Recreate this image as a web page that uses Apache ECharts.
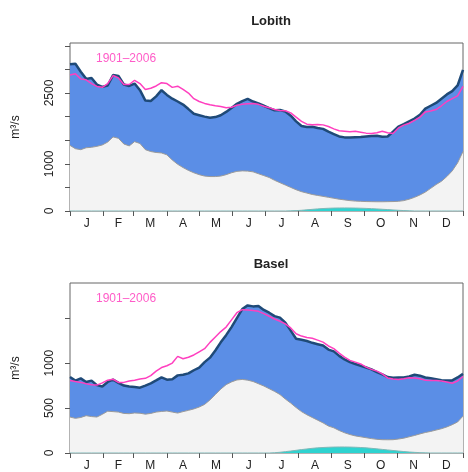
<!DOCTYPE html>
<html>
<head>
<meta charset="utf-8">
<script src="https://cdn.jsdelivr.net/npm/echarts@6/dist/echarts.min.js"></script>
<style>
  html, body { margin: 0; padding: 0; background: #fff; }
  #chart { width: 468px; height: 472px; }
</style>
</head>
<body>
<div id="chart"></div>
<script>
// day of year, 5-day steps
const days = [0,5,10,15,20,25,30,35,40,45,50,55,60,65,70,75,80,85,90,95,100,105,110,115,120,125,130,135,140,145,150,155,160,165,170,175,180,185,190,195,200,205,210,215,220,225,230,235,240,245,250,255,260,265,270,275,280,285,290,295,300,305,310,315,320,325,330,335,340,345,350,355,360,365];

const monthTicks = [0,31,59,90,120,151,181,212,243,273,304,334,365];
const monthMids = [15.5,45,74.5,105,135.5,166,196.5,227.5,258,288.5,319,349.5];
const monthLabels = ['J','F','M','A','M','J','J','A','S','O','N','D'];

// Lobith (m3/s)
const lobithUpper = [3110,3120,2950,2800,2820,2680,2630,2660,2880,2860,2680,2650,2700,2560,2340,2330,2430,2560,2460,2380,2320,2256,2160,2060,2030,2000,1975,1990,2030,2100,2185,2270,2330,2376,2320,2280,2230,2180,2135,2140,2110,2020,1900,1800,1780,1785,1760,1740,1680,1630,1580,1560,1555,1565,1570,1580,1590,1596,1575,1580,1680,1790,1840,1900,1960,2040,2170,2230,2290,2380,2470,2540,2660,2990];
const lobithRef = [2880,2910,2800,2780,2700,2640,2620,2700,2870,2820,2680,2680,2770,2700,2575,2600,2650,2720,2700,2620,2645,2575,2500,2380,2320,2280,2250,2230,2215,2190,2200,2240,2260,2275,2280,2260,2220,2190,2150,2130,2125,2080,1990,1900,1840,1830,1835,1825,1790,1740,1700,1690,1680,1690,1670,1650,1640,1660,1690,1660,1640,1760,1820,1860,1920,1990,2100,2120,2150,2230,2320,2380,2440,2640];
const lobithLower = [1390,1320,1300,1340,1350,1370,1400,1460,1570,1540,1420,1380,1470,1430,1300,1260,1240,1230,1190,1080,990,920,860,810,770,740,730,730,740,770,810,840,850,845,830,790,750,710,650,600,550,500,450,410,380,350,330,310,290,270,250,235,220,210,205,200,198,196,196,198,200,205,220,250,290,340,400,480,560,630,730,850,1020,1260];
const lobithLow = [0,0,0,0,0,0,0,0,0,0,0,0,0,0,0,0,0,0,0,0,0,0,0,0,0,0,0,0,0,0,0,0,0,0,0,0,0,0,0,0,0,3,8,15,25,35,45,52,58,62,64,65,64,62,59,55,50,44,37,30,22,15,9,4,0,0,0,0,0,0,0,0,0,0];

// Basel (m3/s)
const baselUpper = [845,805,830,790,805,755,740,790,815,780,750,740,733,726,750,775,807,840,815,820,863,870,885,920,950,1010,1060,1140,1230,1310,1400,1500,1600,1641,1630,1635,1590,1560,1522,1505,1450,1360,1270,1260,1245,1225,1210,1195,1150,1130,1080,1040,1011,990,970,950,930,900,875,845,837,840,840,850,870,860,840,830,820,810,805,807,840,880];
const baselRef = [807,795,785,770,760,755,780,810,820,785,785,800,810,822,830,860,910,950,970,1000,1074,1048,1065,1090,1125,1160,1230,1290,1350,1400,1480,1560,1593,1590,1585,1575,1550,1520,1490,1465,1435,1390,1326,1300,1285,1275,1255,1233,1190,1160,1110,1065,1030,1010,990,955,930,910,880,835,822,818,825,837,835,825,808,805,805,800,789,775,800,850];
const baselLower = [400,385,395,415,405,400,430,465,460,455,440,437,445,442,432,440,455,462,467,455,444,460,474,490,511,540,590,650,710,760,790,812,818,810,795,770,745,715,685,650,600,555,505,460,425,395,365,335,300,280,250,225,205,190,180,170,160,152,148,147,148,155,165,180,195,212,228,240,255,270,290,315,345,410];
const baselLow = [0,0,0,0,0,0,0,0,0,0,0,0,0,0,0,0,0,0,0,0,0,0,0,0,0,0,0,0,0,0,0,0,0,0,0,0,0,0,3,8,15,22,30,38,45,52,57,61,64,66,67,67,66,64,61,57,52,46,40,34,28,22,16,11,7,4,2,0,0,0,0,0,0,0];

const FONT = 'Liberation Sans';

const pairs = arr => days.map((d, i) => [d, arr[i]]);

function xAxisFor(gridIndex) {
  return {
    type: 'value', gridIndex: gridIndex, min: 0, max: 365,
    axisLine: { show: false },
    splitLine: { show: false },
    axisTick: { show: true, customValues: monthTicks, length: 5, lineStyle: { color: '#555' } },
    axisLabel: {
      customValues: monthMids, margin: 7, fontSize: 12, fontFamily: FONT, color: '#222',
      formatter: v => monthLabels[monthMids.indexOf(v)]
    }
  };
}

function yAxisFor(gridIndex, max, ticks, labels) {
  return {
    type: 'value', gridIndex: gridIndex, min: 0, max: max,
    name: 'm³/s', nameLocation: 'middle', nameGap: 48,
    nameTextStyle: { fontSize: 12, fontFamily: FONT, color: '#222' },
    axisLine: { show: false },
    splitLine: { show: false },
    axisTick: { show: true, customValues: ticks, length: 5, lineStyle: { color: '#555' } },
    axisLabel: {
      customValues: labels, rotate: 90, margin: 14, fontSize: 12, fontFamily: FONT, color: '#222',
      formatter: v => String(v)
    }
  };
}

function panelSeries(idx, upper, ref, lower, low) {
  return [
    {
      type: 'line', xAxisIndex: idx, yAxisIndex: idx, data: pairs(upper), symbol: 'none',
      lineStyle: { width: 0 }, areaStyle: { color: '#5b8ee6', opacity: 1 }, z: 1
    },
    {
      type: 'line', xAxisIndex: idx, yAxisIndex: idx, data: pairs(lower), symbol: 'none',
      lineStyle: { width: 1, color: '#9a9a9a' }, areaStyle: { color: '#f3f3f3', opacity: 1 }, z: 2
    },
    {
      type: 'line', xAxisIndex: idx, yAxisIndex: idx, data: pairs(low), symbol: 'none',
      lineStyle: { width: 1, color: '#7fb8b8' }, areaStyle: { color: '#2ed3d0', opacity: 1 }, z: 3
    },
    {
      type: 'line', xAxisIndex: idx, yAxisIndex: idx, data: pairs(upper), symbol: 'none',
      lineStyle: { width: 2.5, color: '#1f4a78' }, z: 4
    },
    {
      type: 'line', xAxisIndex: idx, yAxisIndex: idx, data: pairs(ref), symbol: 'none',
      lineStyle: { width: 1.5, color: '#ff3fbf' }, z: 5
    }
  ];
}

const chart = echarts.init(document.getElementById('chart'), null, { renderer: 'canvas' });
chart.setOption({
  animation: false,
  backgroundColor: '#fff',
  title: [
    { text: 'Lobith', left: 266, top: 10, textAlign: 'center',
      textStyle: { fontSize: 13, fontWeight: 'bold', fontFamily: FONT, color: '#222' } },
    { text: 'Basel', left: 266, top: 253, textAlign: 'center',
      textStyle: { fontSize: 13, fontWeight: 'bold', fontFamily: FONT, color: '#222' } }
  ],
  grid: [
    { left: 70, top: 43, width: 393, height: 168, show: true, borderColor: '#666', borderWidth: 1, backgroundColor: 'transparent' },
    { left: 70, top: 283, width: 393, height: 170, show: true, borderColor: '#666', borderWidth: 1, backgroundColor: 'transparent' }
  ],
  xAxis: [xAxisFor(0), xAxisFor(1)],
  yAxis: [
    yAxisFor(0, 3560, [0,500,1000,1500,2000,2500,3000,3500], [0,1000,2500]),
    yAxisFor(1, 1890, [0,500,1000,1500], [0,500,1000])
  ],
  graphic: [
    { type: 'text', left: 96, top: 53, z: 100,
      style: { text: '1901–2006', fill: '#ff5cc8', fontSize: 12, fontFamily: FONT } },
    { type: 'text', left: 96, top: 293, z: 100,
      style: { text: '1901–2006', fill: '#ff5cc8', fontSize: 12, fontFamily: FONT } }
  ],
  series: panelSeries(0, lobithUpper, lobithRef, lobithLower, lobithLow)
    .concat(panelSeries(1, baselUpper, baselRef, baselLower, baselLow))
});
</script>
</body>
</html>
